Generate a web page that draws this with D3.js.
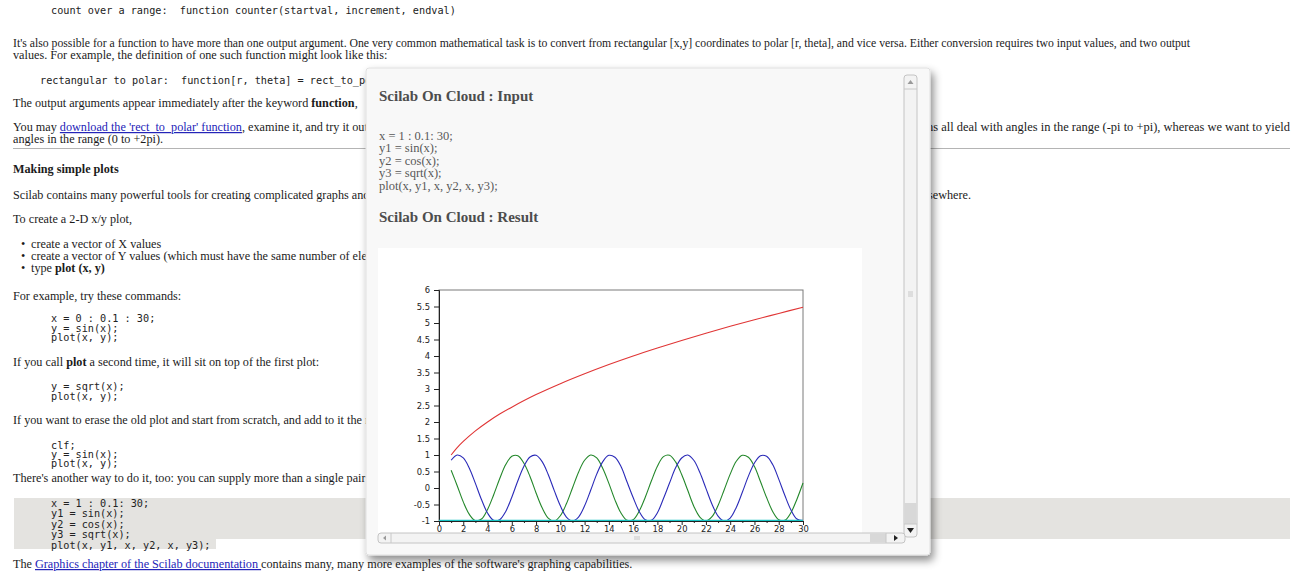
<!DOCTYPE html>
<html>
<head>
<meta charset="utf-8">
<script src="https://cdn.jsdelivr.net/npm/d3@7"></script>
<style>
  html, body { margin: 0; padding: 0; background: #fff; overflow: hidden; }
  svg { display: block; }
  text { white-space: pre; }
  .serif { font-family: "Liberation Serif", "Times New Roman", serif; font-size: 12.2px; fill: #1b1b1b; }
  .mono { font-family: "DejaVu Sans Mono", monospace; font-size: 10.2px; fill: #222; }
  .pop-h { font-family: "Liberation Serif", serif; font-size: 15px; font-weight: bold; fill: #4d4d4d; }
  .pop-code { font-family: "Liberation Serif", serif; font-size: 12.5px; fill: #585858; }
  .tick text { font-family: "DejaVu Sans", sans-serif; font-size: 8.4px; fill: #222; }
</style>
</head>
<body>
<svg id="page" width="1300" height="576"></svg>
<script>
const xVals = [1, 1.5, 2, 2.5, 3, 3.5, 4, 4.5, 5, 5.5, 6, 6.5, 7, 7.5, 8, 8.5, 9, 9.5, 10,
  10.5, 11, 11.5, 12, 12.5, 13, 13.5, 14, 14.5, 15, 15.5, 16, 16.5, 17, 17.5, 18, 18.5, 19,
  19.5, 20, 20.5, 21, 21.5, 22, 22.5, 23, 23.5, 24, 24.5, 25, 25.5, 26, 26.5, 27, 27.5, 28,
  28.5, 29, 29.5, 30];
// y1 = sin(x)  (blue)
const sinVals = [0.84, 1.0, 0.91, 0.6, 0.14, -0.35, -0.76, -0.98, -0.96, -0.71, -0.28, 0.22,
  0.66, 0.94, 0.99, 0.8, 0.41, -0.08, -0.54, -0.88, -1.0, -0.88, -0.54, -0.07, 0.42, 0.8,
  0.99, 0.93, 0.65, 0.18, -0.29, -0.71, -0.96, -0.98, -0.75, -0.32, 0.15, 0.61, 0.91, 1.0,
  0.84, 0.47, -0.01, -0.49, -0.85, -1.0, -0.91, -0.59, -0.13, 0.36, 0.76, 0.98, 0.96, 0.71,
  0.27, -0.22, -0.66, -0.94, -0.99];
// y2 = cos(x)  (green)
const cosVals = [0.54, 0.07, -0.42, -0.8, -0.99, -0.94, -0.65, -0.21, 0.28, 0.71, 0.96, 0.98,
  0.75, 0.35, -0.15, -0.6, -0.91, -1.0, -0.84, -0.48, 0.0, 0.48, 0.84, 1.0, 0.91, 0.59, 0.14,
  -0.36, -0.76, -0.98, -0.96, -0.7, -0.28, 0.21, 0.66, 0.95, 0.99, 0.79, 0.41, -0.07, -0.55,
  -0.88, -1.0, -0.87, -0.53, -0.06, 0.42, 0.81, 0.99, 0.93, 0.65, 0.19, -0.29, -0.71, -0.96,
  -0.98, -0.75, -0.34, 0.15];
// y3 = sqrt(x)  (red)
const sqrtX = [1, 1.5, 2, 3, 4, 5, 6, 8, 10, 12, 14, 16, 18, 20, 22, 24, 26, 28, 30];
const sqrtVals = [1.0, 1.22, 1.41, 1.73, 2.0, 2.24, 2.45, 2.83, 3.16, 3.46, 3.74, 4.0, 4.24,
  4.47, 4.69, 4.9, 5.1, 5.29, 5.48];

const xTicks = [0, 2, 4, 6, 8, 10, 12, 14, 16, 18, 20, 22, 24, 26, 28, 30];
const xMinorTicks = [1, 3, 5, 7, 9, 11, 13, 15, 17, 19, 21, 23, 25, 27, 29];
const yTicks = [-1, -0.5, 0, 0.5, 1, 1.5, 2, 2.5, 3, 3.5, 4, 4.5, 5, 5.5, 6];

const inputCode = ["x = 1 : 0.1: 30;", "y1 = sin(x);", "y2 = cos(x);", "y3 = sqrt(x);",
  "plot(x, y1, x, y2, x, y3);"];

const svg = d3.select("#page");

const defs = svg.append("defs");
defs.append("filter").attr("id", "shadow")
  .attr("x", "-5%").attr("y", "-5%").attr("width", "115%").attr("height", "115%")
  .append("feDropShadow")
  .attr("dx", 3).attr("dy", 5).attr("stdDeviation", 4)
  .attr("flood-color", "#000").attr("flood-opacity", 0.45);
defs.append("clipPath").attr("id", "rightSide")
  .append("rect").attr("x", 931).attr("y", 0).attr("width", 400).attr("height", 576);
defs.append("clipPath").attr("id", "leftSide")
  .append("rect").attr("x", 0).attr("y", 0).attr("width", 366).attr("height", 576);

// one line of text made of plain / bold / link pieces
function line(g, x, y, pieces, cls, opts = {}) {
  const t = g.append("text").attr("class", cls).attr("x", x).attr("y", y)
    .attr("xml:space", "preserve");
  pieces.forEach(p => {
    const [str, kind] = Array.isArray(p) ? p : [p, ""];
    const s = t.append("tspan").text(str);
    if (kind === "b") s.attr("font-weight", "bold");
    if (kind === "a") s.style("fill", "#2424b8").attr("text-decoration", "underline");
  });
  if (opts.anchor) t.attr("text-anchor", opts.anchor);
  if (opts.len) t.attr("textLength", opts.len).attr("lengthAdjust", "spacingAndGlyphs");
  return t;
}

// ---------------- the page underneath ----------------
const page = svg.append("g");
const hidden = page.append("g").attr("clip-path", "url(#leftSide)");   // lines running under the popup
const right = page.append("g").attr("clip-path", "url(#rightSide)");   // their ends beyond it

// grey <pre> background of the last code block
page.append("rect").attr("x", 14).attr("y", 498).attr("width", 1276).attr("height", 41).attr("fill", "#e4e3e0");
page.append("rect").attr("x", 14).attr("y", 539).attr("width", 202).attr("height", 10).attr("fill", "#e4e3e0");

line(page, 51, 14, ["count over a range:  function counter(startval, increment, endval)"], "mono");
line(page, 13, 47, ["It's also possible for a function to have more than one output argument. One very common mathematical task is to convert from rectangular [x,y] coordinates to polar [r, theta], and vice versa. Either conversion requires two input values, and two output"], "serif", {len: 1177});
line(page, 13, 59, ["values. For example, the definition of one such function might look like this:"], "serif");
line(hidden, 40, 84, ["rectangular to polar:  function[r, theta] = rect_to_polar"], "mono");
line(hidden, 13, 107, ["The output arguments appear immediately after the keyword ", ["function", "b"], ","], "serif");
line(hidden, 13, 131, ["You may ", ["download the 'rect_to_polar' function", "a"], ", examine it, and try it out"], "serif");
line(right, 927, 131, ["ns all deal with angles in the range (-pi to +pi), whereas we want to yield"], "serif", {len: 363});
line(page, 13, 143, ["angles in the range (0 to +2pi)."], "serif");
page.append("line").attr("x1", 13).attr("x2", 1290).attr("y1", 148.5).attr("y2", 148.5)
  .attr("stroke", "#b4b4b4").attr("stroke-width", 1.2);
line(page, 13, 173, [["Making simple plots", "b"]], "serif");
line(hidden, 13, 199, ["Scilab contains many powerful tools for creating complicated graphs and plots"], "serif");
line(right, 928, 199, ["sewhere."], "serif");
line(page, 13, 223, ["To create a 2-D x/y plot,"], "serif");
const bullets = [["create a vector of X values"],
  ["create a vector of Y values (which must have the same number of elements)"],
  ["type ", ["plot (x, y)", "b"]]];
bullets.forEach((b, i) => {
  line(page, 21, 248 + i * 12, ["•"], "serif");
  line(hidden, 31, 248 + i * 12, b, "serif");
});
line(page, 13, 300, ["For example, try these commands:"], "serif");
["x = 0 : 0.1 : 30;", "y = sin(x);", "plot(x, y);"].forEach((s, i) => line(page, 51, 322 + i * 9.6, [s], "mono"));
line(page, 13, 366, ["If you call ", ["plot", "b"], " a second time, it will sit on top of the first plot:"], "serif");
["y = sqrt(x);", "plot(x, y);"].forEach((s, i) => line(page, 51, 390 + i * 9.6, [s], "mono"));
line(hidden, 13, 424, ["If you want to erase the old plot and start from scratch, and add to it the new"], "serif");
["clf;", "y = sin(x);", "plot(x, y);"].forEach((s, i) => line(page, 51, 448.5 + i * 9.4, [s], "mono"));
line(hidden, 13, 482, ["There's another way to do it, too: you can supply more than a single pair of"], "serif");
inputCode.forEach((s, i) => line(page, 51, 507 + i * 10.4, [s], "mono"));
line(page, 13, 568, ["The ", ["Graphics chapter of the Scilab documentation ", "a"],
  "contains many, many more examples of the software's graphing capabilities."], "serif");

// ---------------- the popup ----------------
const pop = svg.append("g");
pop.append("rect").attr("x", 366).attr("y", 68).attr("width", 564).attr("height", 487)
  .attr("rx", 3).attr("fill", "#f8f8f8").attr("stroke", "#e0e0e0").attr("filter", "url(#shadow)");

line(pop, 379, 101, ["Scilab On Cloud : Input"], "pop-h");
inputCode.forEach((s, i) => line(pop, 379, 140 + i * 12.4, [s], "pop-code"));
line(pop, 379, 222, ["Scilab On Cloud : Result"], "pop-h");

// white figure canvas
pop.append("rect").attr("x", 378).attr("y", 248).attr("width", 484).attr("height", 286).attr("fill", "#fff");

const px = d3.scaleLinear().domain([0, 30]).range([439, 803]);
const py = d3.scaleLinear().domain([-1, 6]).range([521, 290]);
const fig = pop.append("g");

fig.append("rect").attr("x", px(0)).attr("y", py(6))
  .attr("width", px(30) - px(0)).attr("height", py(-1) - py(6))
  .attr("fill", "none").attr("stroke", "#7a7a7a").attr("stroke-width", 1);

const yAxis = d3.axisLeft(py).tickValues(yTicks).tickSize(5).tickPadding(4).tickFormat(d => String(d));
fig.append("g").attr("transform", `translate(${px(0)},0)`).call(yAxis)
  .call(g => g.select(".domain").attr("stroke", "#222"))
  .call(g => g.selectAll(".tick line").attr("stroke", "#222"));

const curve = d3.curveCatmullRom.alpha(0.5);
const sinLine = d3.line().x((d, i) => px(xVals[i])).y(d => py(d)).curve(curve);
const sqrtLine = d3.line().x((d, i) => px(sqrtX[i])).y(d => py(d)).curve(curve);

fig.append("path").attr("d", sqrtLine(sqrtVals)).attr("fill", "none").attr("stroke", "#e03535").attr("stroke-width", 1.1);
fig.append("path").attr("d", sinLine(cosVals)).attr("fill", "none").attr("stroke", "#23872a").attr("stroke-width", 1.1);
fig.append("path").attr("d", sinLine(sinVals)).attr("fill", "none").attr("stroke", "#2a2ab8").attr("stroke-width", 1.1);

// cyan baseline that Scilab draws along y = -1
fig.append("line").attr("x1", px(0)).attr("x2", px(30)).attr("y1", py(-1) - 0.5).attr("y2", py(-1) - 0.5)
  .attr("stroke", "#19c4c4").attr("stroke-width", 1.6);

const xAxis = d3.axisBottom(px).tickValues(xTicks).tickSize(4).tickPadding(1).tickFormat(d => String(d));
fig.append("g").attr("transform", `translate(0,${py(-1)})`).call(xAxis)
  .call(g => g.select(".domain").attr("stroke", "#222"))
  .call(g => g.selectAll(".tick line").attr("stroke", "#222"));
fig.append("g").attr("transform", `translate(0,${py(-1)})`)
  .call(d3.axisBottom(px).tickValues(xMinorTicks).tickSize(2).tickFormat(""))
  .call(g => g.select(".domain").remove())
  .call(g => g.selectAll(".tick line").attr("stroke", "#222"));

// vertical scrollbar
const vs = pop.append("g");
vs.append("rect").attr("x", 904).attr("y", 75).attr("width", 13).attr("height", 462).attr("rx", 3)
  .attr("fill", "#f3f3f3").attr("stroke", "#c4c4c4");
vs.append("rect").attr("x", 904.5).attr("y", 503).attr("width", 12).attr("height", 21).attr("fill", "#d8d8d8");
vs.append("line").attr("x1", 904).attr("x2", 917).attr("y1", 89).attr("y2", 89).attr("stroke", "#c8c8c8");
vs.append("line").attr("x1", 904).attr("x2", 917).attr("y1", 524).attr("y2", 524).attr("stroke", "#c8c8c8");
vs.append("path").attr("d", "M907.5,84 L910.5,80 L913.5,84 Z").attr("fill", "#9a9a9a");
vs.append("path").attr("d", "M907,528 L910.5,533 L914,528 Z").attr("fill", "#222");
[-2, 0, 2].forEach(o => vs.append("line").attr("x1", 908).attr("x2", 913)
  .attr("y1", 294 + o).attr("y2", 294 + o).attr("stroke", "#c8c8c8"));

// horizontal scrollbar
const hs = pop.append("g");
hs.append("rect").attr("x", 378).attr("y", 533).attr("width", 527).attr("height", 10).attr("rx", 3)
  .attr("fill", "#f3f3f3").attr("stroke", "#c4c4c4");
hs.append("rect").attr("x", 870).attr("y", 533.5).attr("width", 16).attr("height", 9).attr("fill", "#d8d8d8");
hs.append("line").attr("x1", 391).attr("x2", 391).attr("y1", 533).attr("y2", 543).attr("stroke", "#c8c8c8");
hs.append("line").attr("x1", 886).attr("x2", 886).attr("y1", 533).attr("y2", 543).attr("stroke", "#c8c8c8");
hs.append("path").attr("d", "M386,535.5 L383,538 L386,540.5 Z").attr("fill", "#9a9a9a");
hs.append("path").attr("d", "M894,535 L898,538 L894,541 Z").attr("fill", "#222");
[-2, 0, 2].forEach(o => hs.append("line").attr("x1", 637 + o).attr("x2", 637 + o)
  .attr("y1", 536).attr("y2", 540).attr("stroke", "#c8c8c8"));
</script>
</body>
</html>
